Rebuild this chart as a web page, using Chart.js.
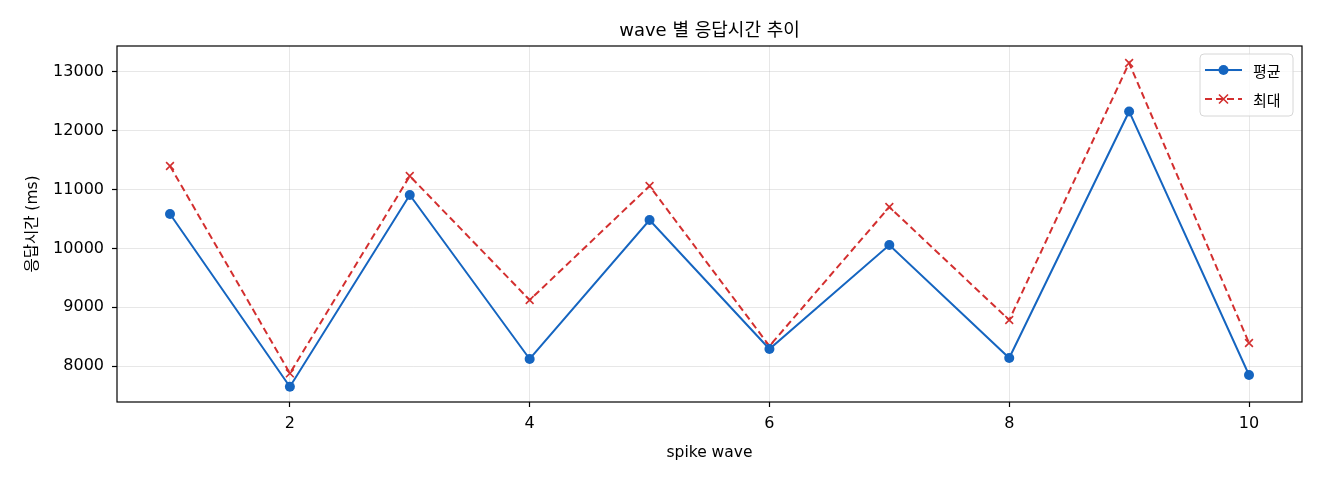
<!DOCTYPE html>
<html><head><meta charset="utf-8">
<script src="https://cdn.jsdelivr.net/npm/chart.js@4.4.1/dist/chart.umd.min.js"></script>
<style>html,body{margin:0;padding:0;background:#fff}#wrap{width:1320px;height:480px}</style>
</head><body><div id="wrap"><canvas id="c"></canvas></div>
<script>
const waves = [1,2,3,4,5,6,7,8,9,10];
const avgValues = [10585,7648,10908,8119,10483,8289,10058,8136,12329,7847];
const maxValues = [11401,7876,11231,9122,11061,8340,10704,8782,13153,8391];
const xTicks = [2,4,6,8,10];
const yTicks = [8000,9000,10000,11000,12000,13000];
const titleText = 'wave 별 응답시간 추이';
const xTitle = 'spike wave';
const yTitle = '응답시간 (ms)';
const seriesNames = ['평균','최대'];

const FONT = "'DejaVu Sans', 'Noto Sans CJK KR', sans-serif";
const BLUE = '#1565c0', RED = '#d32f2f';

const overlay = {
  id:'overlay',
  afterDraw(chart){
    const {ctx, chartArea:a} = chart;
    ctx.save();
    ctx.strokeStyle='#000'; ctx.lineWidth=1.2;
    ctx.strokeRect(a.left, a.top, a.right-a.left, a.bottom-a.top);
    ctx.fillStyle='#000'; ctx.textAlign='center'; ctx.textBaseline='middle';
    ctx.font = '18px '+FONT;
    ctx.fillText(titleText, (a.left+a.right)/2, 31);
    ctx.font = '15.5px '+FONT;
    ctx.fillText(xTitle, (a.left+a.right)/2, 453);
    ctx.save(); ctx.translate(33,(a.top+a.bottom)/2); ctx.rotate(-Math.PI/2);
    ctx.fillText(yTitle,0,0); ctx.restore();
    const bx=1200, by=54, bw=93, bh=62, r=4;
    ctx.beginPath();
    ctx.moveTo(bx+r,by); ctx.arcTo(bx+bw,by,bx+bw,by+bh,r); ctx.arcTo(bx+bw,by+bh,bx,by+bh,r);
    ctx.arcTo(bx,by+bh,bx,by,r); ctx.arcTo(bx,by,bx+bw,by,r); ctx.closePath();
    ctx.fillStyle='rgba(255,255,255,0.8)'; ctx.fill();
    ctx.strokeStyle='#d6d6d6'; ctx.lineWidth=1; ctx.stroke();
    const rows=[{y:70,c:BLUE,dash:[],m:'circle',t:seriesNames[0]},{y:99,c:RED,dash:[7,4],m:'x',t:seriesNames[1]}];
    rows.forEach(rw=>{
      ctx.strokeStyle=rw.c; ctx.lineWidth=2; ctx.setLineDash(rw.dash);
      ctx.beginPath(); ctx.moveTo(1205,rw.y); ctx.lineTo(1242,rw.y); ctx.stroke();
      ctx.setLineDash([]);
      if(rw.m==='circle'){ctx.fillStyle=rw.c; ctx.beginPath(); ctx.arc(1223.5,rw.y,5,0,Math.PI*2); ctx.fill();}
      else {ctx.lineWidth=1.6; ctx.beginPath(); ctx.moveTo(1219,rw.y-4.5); ctx.lineTo(1228,rw.y+4.5); ctx.moveTo(1228,rw.y-4.5); ctx.lineTo(1219,rw.y+4.5); ctx.stroke();}
      ctx.fillStyle='#000'; ctx.textAlign='left'; ctx.font="15px 'Noto Sans CJK KR', sans-serif";
      ctx.fillText(rw.t,1253,rw.y+1);
    });
    ctx.restore();
  }
};

new Chart(document.getElementById('c'), {
  type:'line',
  data:{datasets:[
    {label:seriesNames[0], data:waves.map((w,i)=>({x:w,y:avgValues[i]})), borderColor:BLUE, backgroundColor:BLUE,
     borderWidth:2, pointStyle:'circle', pointRadius:5, pointHoverRadius:5, pointBorderWidth:0, tension:0},
    {label:seriesNames[1], data:waves.map((w,i)=>({x:w,y:maxValues[i]})), borderColor:RED, backgroundColor:RED,
     borderWidth:2, borderDash:[7,4], pointStyle:'crossRot', pointRadius:5.5, pointHoverRadius:5.5, pointBorderWidth:1.6, tension:0}
  ]},
  options:{
    responsive:true, maintainAspectRatio:false, animation:false, devicePixelRatio:1,
    layout:{padding:{top:46,right:18,left:0,bottom:0}},
    plugins:{legend:{display:false}, title:{display:false}, tooltip:{enabled:false}},
    scales:{
      x:{type:'linear', min:0.558, max:10.442,
        afterBuildTicks:s=>{s.ticks=xTicks.map(v=>({value:v}));},
        afterFit:s=>{s.height=78;},
        grid:{color:'rgba(176,176,176,0.3)', lineWidth:1, drawTicks:true, tickLength:5, tickColor:'#000', tickWidth:1.2},
        border:{display:false},
        ticks:{color:'#000', font:{family:FONT,size:16}, padding:7, maxRotation:0}},
      y:{type:'linear', min:7388, max:13442,
        afterBuildTicks:s=>{s.ticks=yTicks.map(v=>({value:v}));},
        afterFit:s=>{s.width=117;},
        grid:{color:'rgba(176,176,176,0.3)', lineWidth:1, drawTicks:true, tickLength:5, tickColor:'#000', tickWidth:1.2},
        border:{display:false},
        ticks:{color:'#000', font:{family:FONT,size:16}, padding:8, callback:v=>String(v)}}
    }
  },
  plugins:[overlay]
});
</script></body></html>
